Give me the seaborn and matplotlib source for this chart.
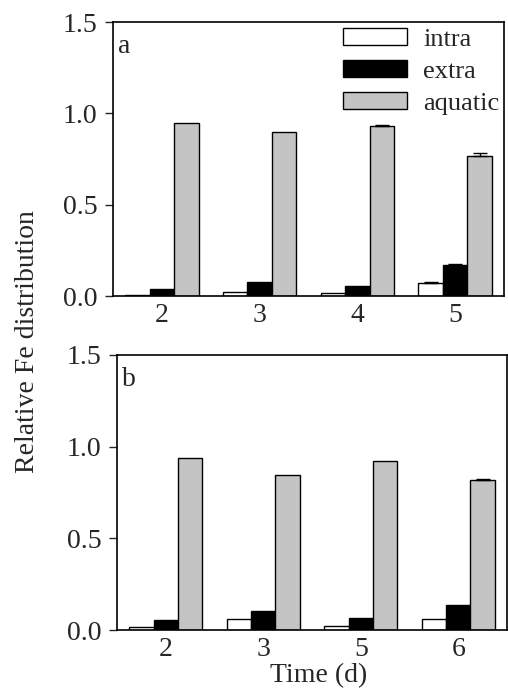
import numpy as np
import pandas as pd
import matplotlib
matplotlib.use("Agg")
import matplotlib.pyplot as plt
import seaborn as sns

components = ["intra", "extra", "aquatic"]

days_a = ["2", "3", "4", "5"]
intra_a = [0.005, 0.022, 0.015, 0.073]
extra_a = [0.040, 0.078, 0.055, 0.170]
aquatic_a = [0.947, 0.898, 0.930, 0.767]
intra_a_err = [0.0, 0.0, 0.0, 0.005]
extra_a_err = [0.0, 0.0, 0.0, 0.005]
aquatic_a_err = [0.0, 0.0, 0.006, 0.015]

days_b = ["2", "3", "5", "6"]
intra_b = [0.018, 0.058, 0.023, 0.062]
extra_b = [0.053, 0.105, 0.067, 0.135]
aquatic_b = [0.938, 0.843, 0.922, 0.818]
intra_b_err = [0.0, 0.0, 0.0, 0.0]
extra_b_err = [0.0, 0.0, 0.0, 0.0]
aquatic_b_err = [0.0, 0.0, 0.0, 0.003]

colors = {"intra": "#ffffff", "extra": "#000000", "aquatic": "#c4c4c4"}

sns.set_theme(style="ticks")
plt.rcParams["font.family"] = ["Liberation Serif", "DejaVu Serif"]
plt.rcParams["font.size"] = 20

def make_df(days, intra, extra, aquatic):
    rows = []
    for name, vals in zip(components, [intra, extra, aquatic]):
        for d, v in zip(days, vals):
            rows.append({"day": d, "comp": name, "value": v})
    return pd.DataFrame(rows)

fig = plt.figure(figsize=(5.08, 6.92), dpi=100)
ax_a = fig.add_axes([113/508, 1 - 296/692, (504 - 113)/508, (296 - 22)/692])
ax_b = fig.add_axes([117/508, 1 - 630/692, (507 - 117)/508, (630 - 355)/692])

panels = [
    (ax_a, days_a, intra_a, extra_a, aquatic_a, [intra_a_err, extra_a_err, aquatic_a_err], "a"),
    (ax_b, days_b, intra_b, extra_b, aquatic_b, [intra_b_err, extra_b_err, aquatic_b_err], "b"),
]

for ax, days, intra, extra, aquatic, errs, lab in panels:
    df = make_df(days, intra, extra, aquatic)
    sns.barplot(data=df, x="day", y="value", hue="comp", hue_order=components,
                palette=colors, edgecolor="black", linewidth=1.0, width=0.75,
                errorbar=None, ax=ax, legend=(lab == "a"))
    for cont, err in zip(ax.containers, errs):
        xs = [p.get_x() + p.get_width() / 2 for p in cont.patches]
        hs = [p.get_height() for p in cont.patches]
        e = np.array(err)
        mask = e > 0
        if mask.any():
            ax.errorbar(np.array(xs)[mask], np.array(hs)[mask],
                        yerr=[np.zeros(mask.sum()), e[mask]],
                        fmt="none", ecolor="black", elinewidth=1.0,
                        capsize=5, capthick=1.0)
    ax.set_ylim(0, 1.5)
    ax.set_xlim(-0.5, 3.5)
    ax.set_yticks([0.0, 0.5, 1.0, 1.5])
    ax.set_yticklabels(["0.0", "0.5", "1.0", "1.5"])
    ax.set_xlabel("")
    ax.set_ylabel("")
    ax.tick_params(axis="y", direction="out", length=6, width=1, labelsize=20, pad=5)
    ax.tick_params(axis="x", length=0, labelsize=20, pad=5)
    for s in ax.spines.values():
        s.set_visible(True)
        s.set_linewidth(1.2)
        s.set_color("black")
    ax.text(0.012, 0.955, lab, transform=ax.transAxes, fontsize=20,
            ha="left", va="top")

leg = ax_a.get_legend()
handles, labels = ax_a.get_legend_handles_labels()
leg.remove()
ax_a.legend(handles, labels, loc="upper right", frameon=False, fontsize=19,
            handlelength=2.45, handleheight=0.6, labelspacing=0.35,
            handletextpad=0.6, borderaxespad=0.0, borderpad=0.0,
            bbox_to_anchor=(0.988, 0.977))

ax_b.set_xlabel("Time (d)", fontsize=20, labelpad=1)
ax_b.xaxis.label.set_x(0.518)
fig.text(28/508, 1 - 342/692, "Relative Fe distribution", rotation=90,
         ha="center", va="center", fontsize=20)

fig.savefig("out.png", dpi=100)
